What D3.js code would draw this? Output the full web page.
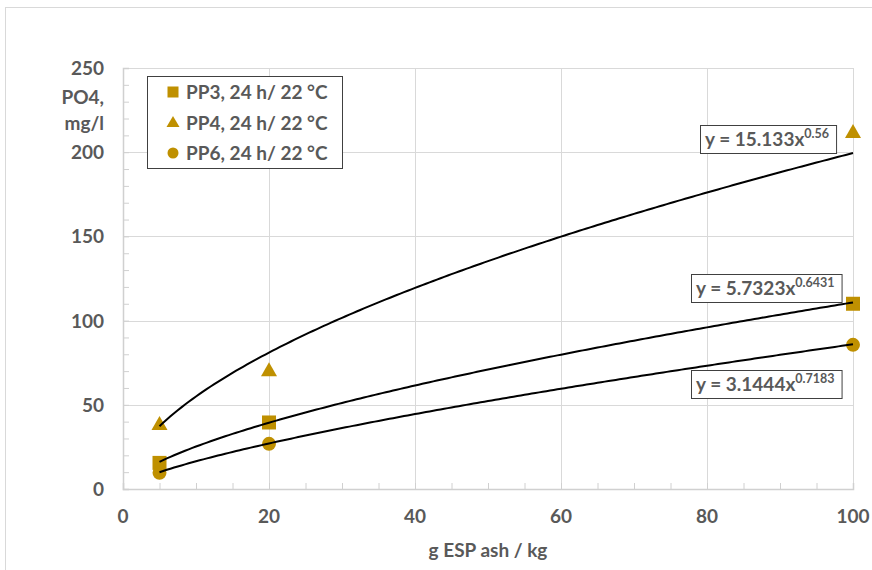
<!DOCTYPE html>
<html>
<head>
<meta charset="utf-8">
<script src="https://cdn.jsdelivr.net/npm/d3@7"></script>
<style>
  body { margin: 0; background: #fff; }
  text { font-family: Lato, "Open Sans", sans-serif; font-weight: bold; fill: #595959; }
</style>
</head>
<body>
<div id="chart"></div>
<script>
// data
let xValues = [5, 20, 100];
let pp3 = [15.5, 39.5, 110];
let pp4 = [38.6, 70.5, 212];
let pp6 = [9.6, 26.8, 85.6];

let seriesNames = ['PP3, 24 h/ 22 °C', 'PP4, 24 h/ 22 °C', 'PP6, 24 h/ 22 °C'];
let seriesShapes = ['square', 'triangle', 'circle'];

// power trend lines y = a * x^b as printed in the chart
let trendA = [5.7323, 15.133, 3.1444];
let trendB = [0.6431, 0.56, 0.7183];
let trendLabelA = ['5.7323', '15.133', '3.1444'];
let trendLabelB = ['0.6431', '0.56', '0.7183'];

let xTicks = [0, 20, 40, 60, 80, 100];
let yTicks = [0, 50, 100, 150, 200, 250];

let allSeries = [pp3, pp4, pp6];
let gold = '#BF9000';

let W = 872, H = 570;
let margin = { top: 68, right: 19, bottom: 81, left: 123 },
  width = W - margin.left - margin.right,
  height = H - margin.top - margin.bottom;

let root = d3.select('#chart').append('svg')
  .attr('width', W)
  .attr('height', H);

// outer chart frame
root.append('rect')
  .attr('x', 5.5).attr('y', 7.5)
  .attr('width', W).attr('height', H)
  .attr('fill', 'none')
  .attr('stroke', '#d9d9d9');

let svg = root.append('g')
  .attr('transform', 'translate(' + margin.left + ',' + margin.top + ')');

let x = d3.scaleLinear().domain([0, 100]).range([0, width]);
let y = d3.scaleLinear().domain([0, 250]).range([height, 0]);

// gridlines
svg.append('g')
  .selectAll('line.h')
  .data(yTicks.slice(1))
  .enter().append('line')
  .attr('x1', 0).attr('x2', width)
  .attr('y1', d => Math.round(y(d)) + 0.5).attr('y2', d => Math.round(y(d)) + 0.5)
  .attr('stroke', '#d9d9d9');

svg.append('g')
  .selectAll('line.v')
  .data(xTicks.slice(1))
  .enter().append('line')
  .attr('x1', d => Math.round(x(d)) + 0.5).attr('x2', d => Math.round(x(d)) + 0.5)
  .attr('y1', 0).attr('y2', height)
  .attr('stroke', '#d9d9d9');

// axes with inner minor ticks
let xAxis = svg.append('g')
  .attr('transform', 'translate(0,' + height + ')')
  .call(d3.axisTop(x).tickValues(d3.range(0, 101, 5)).tickSize(6).tickFormat(''));
let yAxis = svg.append('g')
  .call(d3.axisRight(y).tickValues(d3.range(0, 251, 10)).tickSize(6).tickFormat(''));
[xAxis, yAxis].forEach(a => {
  a.selectAll('path').attr('stroke', '#d0d0d0').attr('stroke-width', 1.5);
  a.selectAll('line').attr('stroke', '#d0d0d0');
});

// tick labels
svg.selectAll('.xlab')
  .data(xTicks)
  .enter().append('text')
  .attr('x', d => x(d))
  .attr('y', height + 34)
  .attr('text-anchor', 'middle')
  .style('font-size', '19px')
  .text(d => d);

svg.selectAll('.ylab')
  .data(yTicks)
  .enter().append('text')
  .attr('x', -19)
  .attr('y', d => y(d) + 7)
  .attr('text-anchor', 'end')
  .style('font-size', '19px')
  .text(d => d);

// axis titles
svg.append('text')
  .attr('x', -19).attr('y', 36)
  .attr('text-anchor', 'end')
  .style('font-size', '19px')
  .text('PO4,');
svg.append('text')
  .attr('x', -19).attr('y', 62)
  .attr('text-anchor', 'end')
  .style('font-size', '19px')
  .text('mg/l');

svg.append('text')
  .attr('x', width / 2)
  .attr('y', height + 68)
  .attr('text-anchor', 'middle')
  .style('font-size', '19px')
  .text('g ESP ash / kg');

// markers
function marker(sel, shape, size) {
  if (shape === 'circle') {
    sel.append('circle').attr('r', size / 2).attr('fill', gold);
  } else if (shape === 'square') {
    sel.append('rect')
      .attr('x', -size / 2).attr('y', -size / 2)
      .attr('width', size).attr('height', size)
      .attr('fill', gold);
  } else {
    sel.append('path')
      .attr('d', `M0,${-size / 2 - 1} L${size / 2 + 1},${size / 2 - 1} L${-size / 2 - 1},${size / 2 - 1} Z`)
      .attr('fill', gold);
  }
}

allSeries.forEach((vals, i) => {
  vals.forEach((v, j) => {
    let g = svg.append('g')
      .attr('transform', 'translate(' + x(xValues[j]) + ',' + y(v) + ')');
    marker(g, seriesShapes[i], 14);
  });
});

// trend lines
let line = d3.line().x(d => x(d[0])).y(d => y(d[1])).curve(d3.curveLinear);
trendA.forEach((a, i) => {
  let pts = d3.range(5, 100.01, 0.5).map(t => [t, a * Math.pow(t, trendB[i])]);
  svg.append('path')
    .attr('d', line(pts))
    .attr('fill', 'none')
    .attr('stroke', '#000')
    .attr('stroke-width', 2);
});

// trend equation labels (left, top of box)
let eqPos = [[568, 206], [577, 57], [568, 302]];
trendA.forEach((a, i) => {
  let g = svg.append('g').attr('transform', 'translate(' + eqPos[i][0] + ',' + eqPos[i][1] + ')');
  let t = g.append('text')
    .attr('x', 5).attr('y', 21)
    .style('font-size', '19px');
  t.append('tspan').text('y = ' + trendLabelA[i] + 'x');
  t.append('tspan')
    .attr('dy', -8)
    .style('font-size', '12.5px')
    .text(trendLabelB[i]);
  let bw = t.node().getComputedTextLength();
  g.insert('rect', 'text')
    .attr('x', 0.5).attr('y', 0.5)
    .attr('width', bw + 12).attr('height', 28)
    .attr('fill', '#fff')
    .attr('stroke', '#404040');
});

// legend
let legend = svg.append('g').attr('transform', 'translate(24,8)');
legend.append('rect')
  .attr('x', 0.5).attr('y', 0.5)
  .attr('width', 195).attr('height', 92)
  .attr('fill', '#fff')
  .attr('stroke', '#404040');
seriesNames.forEach((name, i) => {
  let row = legend.append('g').attr('transform', 'translate(26,' + (16 + i * 30.5) + ')');
  marker(row, seriesShapes[i], 11);
  row.append('text')
    .attr('x', 13).attr('y', 7)
    .style('font-size', '19px')
    .text(name);
});
</script>
</body>
</html>
